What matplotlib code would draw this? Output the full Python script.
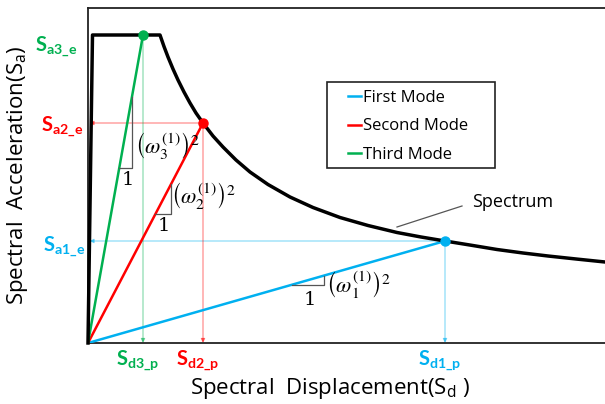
import matplotlib.pyplot as plt
from matplotlib.patches import Rectangle

plt.rcParams["font.family"] = ["Open Sans", "DejaVu Sans"]
plt.rcParams["mathtext.fontset"] = "custom"
plt.rcParams["mathtext.rm"] = "Open Sans"
plt.rcParams["mathtext.bf"] = "Lato:bold"

# design spectrum in Sd-Sa format (plateau then descending branch)
spec_sd = [0, 4.5, 72, 76, 80, 85, 90, 96, 102, 108, 115, 125, 135, 148, 162,
           180, 202, 225, 252, 280, 309, 333, 357, 383, 409, 435, 460, 490, 517]
spec_sa = [0, 308, 308, 296.5, 286, 274, 263, 251, 240, 230, 220, 207, 196, 183, 171,
           158.5, 146, 135.5, 125.5, 117.5, 110.5, 106, 102, 97.8, 93.5, 90, 87, 83.8, 81]

# performance points of each mode
modes = ["First Mode", "Second Mode", "Third Mode"]
mode_sd = [357, 115, 55]
mode_sa = [102, 220, 308]
colors = ["#00B0F0", "#FF0000", "#00B050"]
sa_labels = [r"$\mathbf{S_{a1\_e}}$", r"$\mathbf{S_{a2\_e}}$", r"$\mathbf{S_{a3\_e}}$"]
sd_labels = [r"$\mathbf{S_{d1\_p}}$", r"$\mathbf{S_{d2\_p}}$", r"$\mathbf{S_{d3\_p}}$"]
omega_labels = [r"$\left(\omega_1^{(1)}\right)^2$",
                r"$\left(\omega_2^{(1)}\right)^2$",
                r"$\left(\omega_3^{(1)}\right)^2$"]
show_sa_arrow = [True, True, False]

# slope triangle: start on the line, run length, label offsets
tri_x0 = [204, 67.4, 31.3]
tri_dx = [32, 15.6, 12.7]
one_pos = [(222, 43), (76, 117), (40, 163)]
omega_pos = [(238, 58), (83, 147), (47, 197)]
sa_off = [(-3, -10), (-5, -8), (-11, -16)]

fig = plt.figure(figsize=(6.05, 4.04), dpi=100)
ax = fig.add_axes([88 / 605, 61 / 404, 1 - 88 / 605, 335 / 404])
ax.set_xlim(0, 517)
ax.set_ylim(0, 335)
ax.set_xticks([])
ax.set_yticks([])
for side in ["left", "top", "bottom"]:
    ax.spines[side].set_linewidth(1.3)
    ax.spines[side].set_color("#222222")
ax.spines["right"].set_visible(False)

ax.plot(spec_sd, spec_sa, color="black", lw=2.5, zorder=4,
        solid_joinstyle="round", clip_on=False)

for i in range(3):
    c = colors[i]
    sd, sa = mode_sd[i], mode_sa[i]
    arrow = dict(arrowstyle="-|>", color=c, lw=0.8, alpha=0.5,
                 shrinkA=0, shrinkB=0, mutation_scale=6)
    ax.annotate("", xy=(sd, 0), xytext=(sd, sa), arrowprops=arrow, zorder=2)
    if show_sa_arrow[i]:
        ax.annotate("", xy=(1.5, sa), xytext=(sd, sa), arrowprops=arrow, zorder=2)
    ax.plot([0, sd], [0, sa], color=c, lw=1.8, zorder=3, label=modes[i])
    ax.plot(sd, sa, "o", color=c, ms=6.5, zorder=5)

    # slope triangle
    s = sa / sd
    x0, dx = tri_x0[i], tri_dx[i]
    ax.plot([x0, x0 + dx, x0 + dx], [s * x0, s * x0, s * (x0 + dx)],
            color="#555555", lw=0.9, zorder=3)
    ax.text(*one_pos[i], "1", fontsize=14, family="serif",
            math_fontfamily="stix", ha="center", va="center")
    ax.text(*omega_pos[i], omega_labels[i], fontsize=16,
            math_fontfamily="stix", ha="left", va="center")

    ax.annotate(sa_labels[i], xy=(0, sa), xytext=sa_off[i],
                textcoords="offset pixels", ha="right", va="baseline",
                color=c, fontsize=14.5, annotation_clip=False)
    ax.annotate(sd_labels[i], xy=(sd, 0), xytext=(-5, -21),
                textcoords="offset pixels", ha="center", va="baseline",
                color=c, fontsize=14.5, annotation_clip=False)

ax.plot([309, 374], [116, 137], color="#555555", lw=0.9)
ax.text(384, 141, "Spectrum", fontsize=13, va="center", ha="left")

# legend box drawn separately so it can be padded wider than the entries
ax.add_patch(Rectangle((239, 175), 168, 86, fill=False, lw=1.2,
                       edgecolor="#222222", zorder=6))
ax.legend(loc="upper left", bbox_to_anchor=(255 / 517, 258 / 335),
          fontsize=12, handlelength=0.8, handletextpad=0.1,
          labelspacing=0.75, borderpad=0.3, borderaxespad=0,
          frameon=False)

ax.set_xlabel("Spectral  Displacement(S$_{\\mathrm{d}}$ )", fontsize=16)
ax.xaxis.set_label_coords(242 / 517, -33 / 335)
ax.set_ylabel("Spectral  Acceleration(S$_{\\mathrm{a}}$)", fontsize=16)
ax.yaxis.set_label_coords(-58 / 517, 168 / 335)

fig.savefig("out.png", dpi=100)
